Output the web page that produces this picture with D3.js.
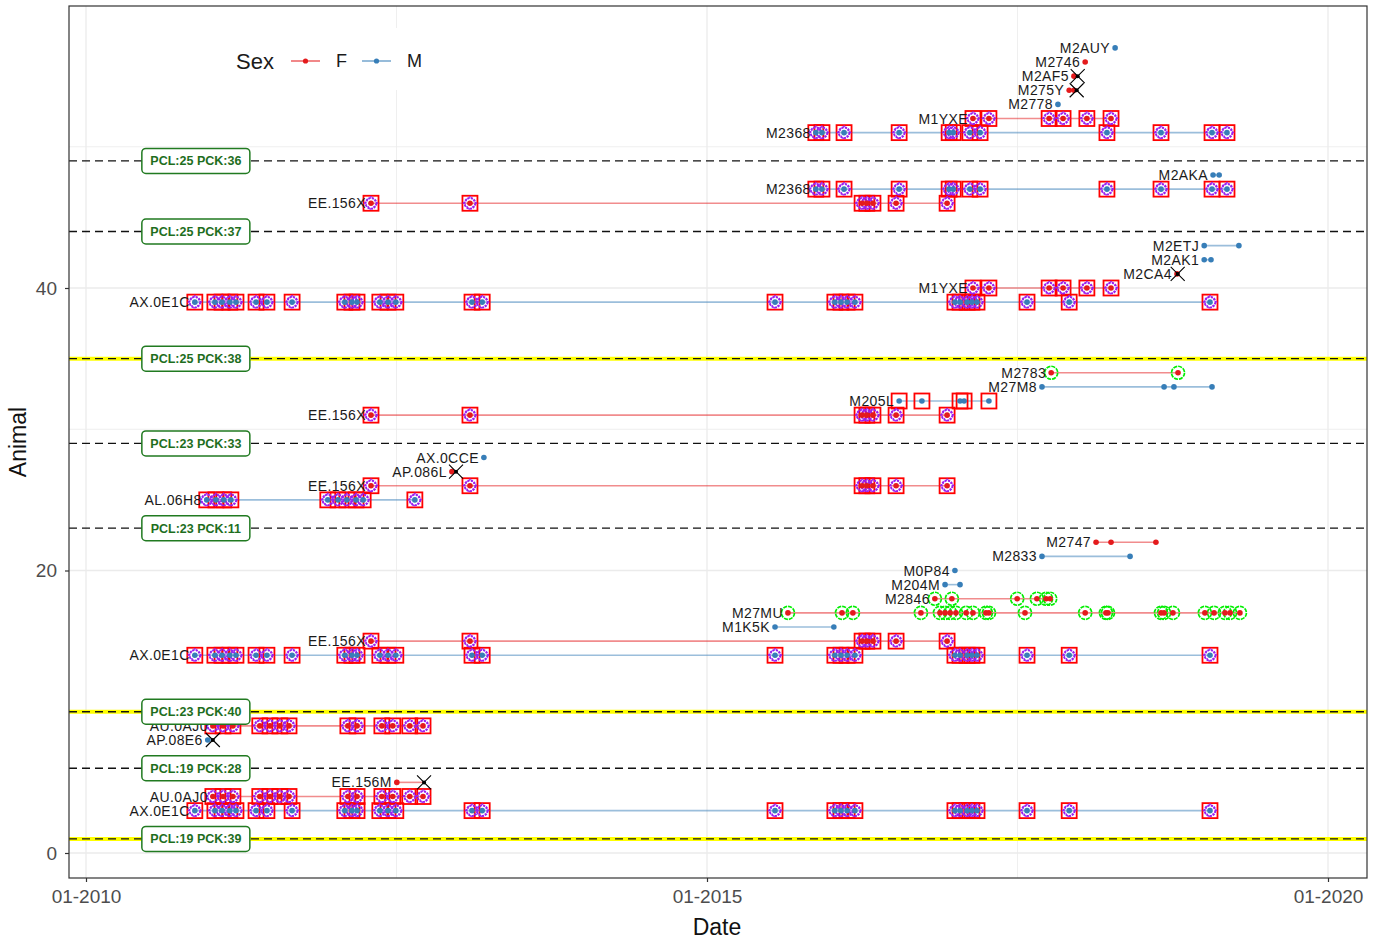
<!DOCTYPE html>
<html>
<head>
<meta charset="utf-8">
<script src="https://cdn.jsdelivr.net/npm/d3@7"></script>
<style>
  body { margin: 0; background: #fff; font-family: "Liberation Sans", Arial, sans-serif; }
</style>
</head>
<body>
<div id="chart"></div>
<script>
// ---- observation dates per animal ----
const datesAX0E1C = ['2010-11-17','2011-01-15','2011-02-05','2011-02-28','2011-03-18','2011-05-16','2011-06-17','2011-08-30',
  '2012-02-01','2012-02-22','2012-03-08','2012-05-14','2012-06-07','2012-06-30','2013-02-09','2013-03-11',
  '2015-07-20','2016-01-12','2016-01-30','2016-02-17','2016-03-11','2016-12-30','2017-01-14','2017-02-04',
  '2017-02-18','2017-03-05','2017-07-30','2017-12-01','2019-01-19'];
const datesM1YXE = ['2017-02-21','2017-04-09','2017-10-03','2017-11-13','2018-01-22','2018-04-03'];
const datesM2368 = ['2015-11-17','2015-12-05','2016-02-08','2016-07-19','2016-12-13','2016-12-25','2017-02-12','2017-03-14',
  '2018-03-22','2018-08-28','2019-01-25','2019-03-10'];
const datesEE156X = ['2012-04-18','2013-02-03','2016-04-01','2016-04-15','2016-05-03','2016-07-10','2016-12-07'];
const datesAL06H8 = ['2010-12-22','2011-01-18','2011-02-10','2011-03-03','2011-12-13','2012-01-12','2012-02-07',
  '2012-03-05','2012-03-26','2012-08-25'];
const datesAU0AJ0 = ['2011-01-09','2011-02-08','2011-03-09','2011-05-27','2011-06-26','2011-07-25','2011-08-21',
  '2012-02-10','2012-03-08','2012-05-20','2012-06-21','2012-08-10','2012-09-18'];
const datesM2AUY = ['2018-04-15'];
const datesM2746 = ['2018-01-17'];
const datesM2AF5 = ['2017-12-15'];
const datesM275Y = ['2017-12-01','2017-12-15'];
const datesM2778 = ['2017-10-29'];
const datesM2AKA = ['2019-01-28','2019-02-15'];
const datesM2ETJ = ['2019-01-02','2019-04-14'];
const datesM2AK1 = ['2019-01-02','2019-01-22'];
const datesM2CA4 = ['2018-10-14'];
const datesM2783 = ['2017-10-09','2018-10-17'];
const datesM27M8 = ['2017-09-12','2018-09-06','2018-10-05','2019-01-25'];
const datesM205L = ['2016-07-19','2016-09-24','2017-01-14','2017-01-26','2017-04-09'];
const datesAX0CCE = ['2013-03-16'];
const datesAP086L = ['2012-12-12'];
const datesM2747 = ['2018-02-18','2018-04-03','2018-08-13'];
const datesM2833 = ['2017-09-12','2018-05-29'];
const datesM0P84 = ['2016-12-30'];
const datesM204M = ['2016-12-01','2017-01-14'];
const datesM2846 = ['2016-11-01','2016-12-21','2017-07-01','2017-08-28','2017-09-24','2017-10-06'];
const datesM27MU = ['2015-08-27','2016-02-02','2016-03-05','2016-09-21','2016-11-16','2016-12-01','2016-12-16','2017-01-02',
  '2017-02-01','2017-02-21','2017-03-31','2017-04-09','2017-07-24','2018-01-17','2018-03-19','2018-03-25',
  '2018-08-28','2018-09-06','2018-10-02','2019-01-04','2019-01-31','2019-03-04','2019-03-19','2019-04-17'];
const datesM1K5K = ['2015-07-20','2016-01-09'];
const datesAP08E6 = ['2010-12-25'];
const datesEE156M = ['2012-07-03'];

// ---- animals ----
const animalNames = ['AX.0E1C','M1YXE','M2368','EE.156X','AL.06H8','AU.0AJ0','M2AUY','M2746','M2AF5','M275Y','M2778',
  'M2AKA','M2ETJ','M2AK1','M2CA4','M2783','M27M8','M205L','AX.0CCE','AP.086L','M2747','M2833','M0P84','M204M',
  'M2846','M27MU','M1K5K','AP.08E6','EE.156M'];
const animalSex = ['M','F','M','F','M','F','M','F','F','F','M',
  'M','M','M','F','F','M','M','M','F','F','M','M','M',
  'F','F','M','M','F'];
const animalDates = [datesAX0E1C, datesM1YXE, datesM2368, datesEE156X, datesAL06H8, datesAU0AJ0, datesM2AUY, datesM2746,
  datesM2AF5, datesM275Y, datesM2778, datesM2AKA, datesM2ETJ, datesM2AK1, datesM2CA4, datesM2783, datesM27M8,
  datesM205L, datesAX0CCE, datesAP086L, datesM2747, datesM2833, datesM0P84, datesM204M, datesM2846, datesM27MU,
  datesM1K5K, datesAP08E6, datesEE156M];

// deaths
const deathAnimals = ['M2AF5','M275Y','M2CA4','AP.086L','AP.08E6','EE.156M'];
const deathDates = ['2017-12-26','2017-12-23','2018-10-16','2012-12-24','2011-01-09','2012-09-21'];

// marker categories
const boxedAnimals = ['AX.0E1C','M1YXE','M2368','EE.156X','AL.06H8','AU.0AJ0'];
const squareOnlyAnimals = ['M205L'];
const circledAnimals = ['M2783','M27MU','M2846'];

// ---- rows on the Animal axis ----
const rowY = [57,56,55,54,53,52,51,48,47,46,43,42,41,40,39,34,33,32,31,28,27,26,25,22,21,20,19,18,17,16,15,14,9,8,5,4,3];
const rowAnimal = ['M2AUY','M2746','M2AF5','M275Y','M2778','M1YXE','M2368','M2AKA','M2368','EE.156X','M2ETJ','M2AK1',
  'M2CA4','M1YXE','AX.0E1C','M2783','M27M8','M205L','EE.156X','AX.0CCE','AP.086L','EE.156X','AL.06H8','M2747',
  'M2833','M0P84','M204M','M2846','M27MU','M1K5K','EE.156X','AX.0E1C','AU.0AJ0','AP.08E6','EE.156M','AU.0AJ0','AX.0E1C'];

// ---- group separators ----
const groupY = [49,44,35,29,23,10,6,1];
const groupLabels = ['PCL:25 PCK:36','PCL:25 PCK:37','PCL:25 PCK:38','PCL:23 PCK:33','PCL:23 PCK:11',
  'PCL:23 PCK:40','PCL:19 PCK:28','PCL:19 PCK:39'];
const highlightedGroupY = [35,10,1];
const groupLabelDate = '2010-11-20';

// ---- axes ----
const xTickDates = ['2010-01-01','2015-01-01','2020-01-01'];
const xMinorDates = ['2012-07-02','2017-07-02'];
const yTicks = [0,20,40];
const yMinor = [10,30,50];

const sexColor = {F: '#E41A1C', M: '#377EB8'};
const parse = d3.timeParse('%Y-%m-%d');
const fontFamily = '"Liberation Sans", Arial, sans-serif';

const width = 1378, height = 942;
const panel = {left: 69, top: 6, right: 1367, bottom: 878};

const x = d3.scaleTime()
    .domain([parse('2010-01-01'), parse('2020-01-01')])
    .range([86, 1328]);
const y = d3.scaleLinear()
    .domain([0, 40])
    .range([853, 288]);

const svg = d3.select('#chart').append('svg')
    .attr('width', width)
    .attr('height', height)
    .style('font-family', fontFamily);

svg.append('defs').append('clipPath').attr('id', 'panel-clip')
  .append('rect')
    .attr('x', panel.left).attr('y', panel.top)
    .attr('width', panel.right - panel.left).attr('height', panel.bottom - panel.top);

// grid
const grid = svg.append('g');
grid.selectAll('.xminor').data(xMinorDates).enter().append('line')
    .attr('x1', d => x(parse(d))).attr('x2', d => x(parse(d)))
    .attr('y1', panel.top).attr('y2', panel.bottom)
    .attr('stroke', '#EBEBEB').attr('stroke-width', 0.8);
grid.selectAll('.yminor').data(yMinor).enter().append('line')
    .attr('x1', panel.left).attr('x2', panel.right)
    .attr('y1', d => y(d)).attr('y2', d => y(d))
    .attr('stroke', '#EBEBEB').attr('stroke-width', 0.8);
grid.selectAll('.xmajor').data(xTickDates).enter().append('line')
    .attr('x1', d => x(parse(d))).attr('x2', d => x(parse(d)))
    .attr('y1', panel.top).attr('y2', panel.bottom)
    .attr('stroke', '#EBEBEB').attr('stroke-width', 1.3);
grid.selectAll('.ymajor').data(yTicks).enter().append('line')
    .attr('x1', panel.left).attr('x2', panel.right)
    .attr('y1', d => y(d)).attr('y2', d => y(d))
    .attr('stroke', '#EBEBEB').attr('stroke-width', 1.3);

const plot = svg.append('g').attr('clip-path', 'url(#panel-clip)');

// group separator lines
plot.selectAll('.yellow').data(highlightedGroupY).enter().append('line')
    .attr('x1', panel.left).attr('x2', panel.right)
    .attr('y1', d => y(d)).attr('y2', d => y(d))
    .attr('stroke', '#FFFF00').attr('stroke-width', 4);
plot.selectAll('.sep').data(groupY).enter().append('line')
    .attr('x1', panel.left).attr('x2', panel.right)
    .attr('y1', d => y(d)).attr('y2', d => y(d))
    .attr('stroke', '#111').attr('stroke-width', 1.3)
    .attr('stroke-dasharray', '8,5');

// build row records
const rows = rowY.map((ry, i) => {
  const name = rowAnimal[i];
  const k = animalNames.indexOf(name);
  const dates = animalDates[k].map(parse);
  const di = deathAnimals.indexOf(name);
  const death = di >= 0 ? parse(deathDates[di]) : null;
  return {y: ry, name: name, sex: animalSex[k], dates: dates, death: death};
});

// life lines
plot.selectAll('.life').data(rows).enter().append('line')
    .attr('x1', d => x(d.dates[0]))
    .attr('x2', d => x(d3.max(d.death ? d.dates.concat([d.death]) : d.dates)))
    .attr('y1', d => y(d.y)).attr('y2', d => y(d.y))
    .attr('stroke', d => sexColor[d.sex])
    .attr('stroke-opacity', 0.5)
    .attr('stroke-width', 1.6);

const pts = [];
rows.forEach(r => r.dates.forEach(dt => pts.push({y: r.y, date: dt, name: r.name, sex: r.sex})));

// red squares
const boxed = pts.filter(p => boxedAnimals.includes(p.name) || squareOnlyAnimals.includes(p.name));
plot.selectAll('.box').data(boxed).enter().append('rect')
    .attr('x', d => x(d.date) - 7.5).attr('y', d => y(d.y) - 7.5)
    .attr('width', 15).attr('height', 15)
    .attr('fill', 'none').attr('stroke', '#FF0000').attr('stroke-width', 1.8);

// purple dotted markers
const purple = pts.filter(p => boxedAnimals.includes(p.name));
plot.selectAll('.pc').data(purple).enter().append('circle')
    .attr('cx', d => x(d.date)).attr('cy', d => y(d.y)).attr('r', 5.4)
    .attr('fill', 'none').attr('stroke', '#9A1FF0').attr('stroke-width', 1.8)
    .attr('stroke-dasharray', '2.2,1');
plot.selectAll('.pd').data(purple).enter().append('path')
    .attr('d', d => {
      const cx = x(d.date), cy = y(d.y), s = 6.5;
      return `M${cx - s},${cy}L${cx},${cy - s}L${cx + s},${cy}L${cx},${cy + s}Z`;
    })
    .attr('fill', 'none').attr('stroke', '#9A1FF0').attr('stroke-width', 1.5)
    .attr('stroke-dasharray', '1.6,1.2');

// green circles
const circled = pts.filter(p => circledAnimals.includes(p.name));
plot.selectAll('.gc').data(circled).enter().append('circle')
    .attr('cx', d => x(d.date)).attr('cy', d => y(d.y)).attr('r', 6.5)
    .attr('fill', 'none').attr('stroke', '#00EE00').attr('stroke-width', 1.7)
    .attr('stroke-dasharray', '4,1');

// observation dots
plot.selectAll('.dot').data(pts).enter().append('circle')
    .attr('cx', d => x(d.date)).attr('cy', d => y(d.y)).attr('r', 2.8)
    .attr('fill', d => sexColor[d.sex]);

// deaths
const deaths = rows.filter(r => r.death);
const xs = plot.selectAll('.death').data(deaths).enter().append('g')
    .attr('transform', d => `translate(${x(d.death)},${y(d.y)})`);
xs.append('path').attr('d', 'M-7,-7L7,7M-7,7L7,-7')
    .attr('stroke', '#000').attr('stroke-width', 1.1).attr('fill', 'none');
xs.append('circle').attr('r', 2).attr('fill', '#000');

// animal labels
plot.selectAll('.name').data(rows).enter().append('text')
    .attr('x', d => x(d.dates[0]) - 5)
    .attr('y', d => y(d.y))
    .attr('dy', '0.36em')
    .attr('text-anchor', 'end')
    .attr('font-size', 14)
    .attr('letter-spacing', 0.4)
    .attr('fill', '#1a1a1a')
    .text(d => d.name);

// group labels
const gl = plot.selectAll('.glabel').data(groupY).enter().append('g')
    .attr('transform', d => `translate(${x(parse(groupLabelDate))},${y(d)})`);
gl.append('rect')
    .attr('x', -54).attr('y', -12.5).attr('width', 108).attr('height', 25)
    .attr('rx', 4).attr('fill', '#fff')
    .attr('stroke', '#217A21').attr('stroke-width', 1.5);
gl.append('text')
    .attr('y', 0).attr('dy', '0.36em')
    .attr('text-anchor', 'middle')
    .attr('font-size', 12.5).attr('font-weight', 'bold')
    .attr('fill', '#1E6E1E')
    .text((d, i) => groupLabels[i]);

// panel border
svg.append('rect')
    .attr('x', panel.left).attr('y', panel.top)
    .attr('width', panel.right - panel.left).attr('height', panel.bottom - panel.top)
    .attr('fill', 'none').attr('stroke', '#333').attr('stroke-width', 1.2);

// axes
const xAxis = d3.axisBottom(x)
    .tickValues(xTickDates.map(parse))
    .tickFormat(d3.timeFormat('%m-%Y'))
    .tickSize(4).tickPadding(8);
const gx = svg.append('g').attr('transform', `translate(0,${panel.bottom})`).call(xAxis);
gx.select('.domain').remove();
gx.selectAll('line').attr('stroke', '#333').attr('stroke-width', 1.2);
gx.selectAll('text').style('font-size', '19px').attr('fill', '#4D4D4D').style('font-family', fontFamily);

const yAxis = d3.axisLeft(y).tickValues(yTicks).tickSize(4).tickPadding(8);
const gy = svg.append('g').attr('transform', `translate(${panel.left},0)`).call(yAxis);
gy.select('.domain').remove();
gy.selectAll('line').attr('stroke', '#333').attr('stroke-width', 1.2);
gy.selectAll('text').style('font-size', '19px').attr('fill', '#4D4D4D').style('font-family', fontFamily);

svg.append('text')
    .attr('x', 717).attr('y', 935)
    .attr('text-anchor', 'middle')
    .style('font-size', '23px').attr('fill', '#111')
    .text('Date');
svg.append('text')
    .attr('transform', 'translate(26,442) rotate(-90)')
    .attr('text-anchor', 'middle')
    .style('font-size', '23px').attr('fill', '#111')
    .text('Animal');

// legend
const legend = svg.append('g');
legend.append('rect')
    .attr('x', 224).attr('y', 28).attr('width', 212).attr('height', 62)
    .attr('fill', '#fff');
legend.append('text')
    .attr('x', 236).attr('y', 61).attr('dy', '0.36em')
    .style('font-size', '22px').attr('fill', '#1a1a1a')
    .text('Sex');
const keys = legend.selectAll('.key').data(['F','M']).enter().append('g')
    .attr('transform', (d, i) => `translate(${291 + i * 71},61)`);
keys.append('line').attr('x1', 0).attr('x2', 29)
    .attr('stroke', d => sexColor[d]).attr('stroke-opacity', 0.8).attr('stroke-width', 1.3);
keys.append('circle').attr('cx', 14.5).attr('r', 2.6).attr('fill', d => sexColor[d]);
keys.append('text').attr('x', 45).attr('dy', '0.36em')
    .style('font-size', '18px').attr('fill', '#1a1a1a')
    .text(d => d);
</script>
</body>
</html>
